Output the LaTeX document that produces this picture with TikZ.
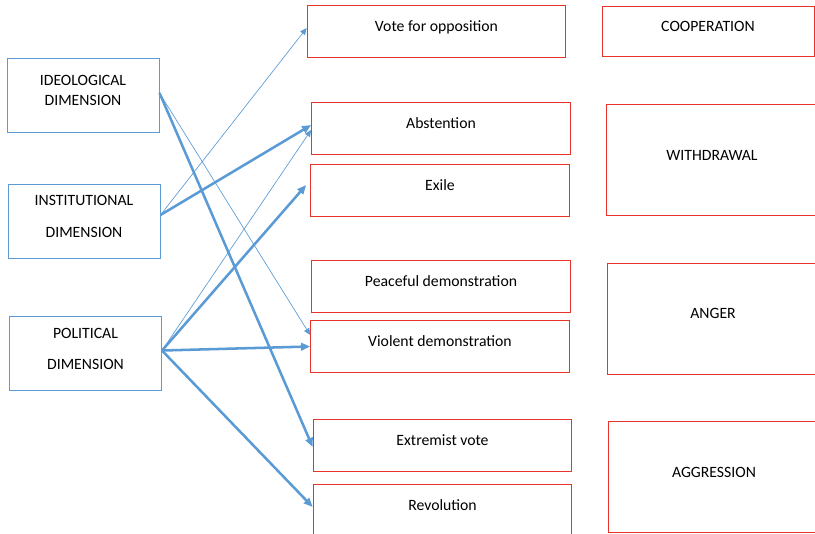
\documentclass[tikz,border=0pt]{standalone}
\usepackage{fontspec}
\setmainfont{Carlito}
\usetikzlibrary{arrows.meta}
\definecolor{dimblue}{RGB}{91,155,213}
\definecolor{actred}{RGB}{232,52,42}

\begin{document}
\begin{tikzpicture}[x=0.75pt,y=-0.75pt,
    font=\fontsize{11.8}{14.2}\selectfont,
    dimbox/.style={draw=dimblue,line width=0.75pt,rectangle,align=center,
      minimum width=114pt,minimum height=55.5pt,text depth=8pt,inner sep=0pt},
    actbox/.style={draw=actred,line width=0.75pt,rectangle,
      minimum width=194pt,minimum height=38.5pt,text depth=8pt,inner sep=0pt},
    moodbox/.style={draw=actred,line width=0.75pt,rectangle,
      minimum width=158pt,minimum height=83.25pt,text depth=8pt,inner sep=0pt},
    thinarrow/.style={draw=dimblue,line width=0.5pt,-{Triangle[length=5pt,width=4.4pt]}},
    thickarrow/.style={draw=dimblue,line width=1.9pt,-{Triangle[length=6.8pt,width=5.6pt]}}]
    \useasboundingbox (0,0) rectangle (815,534);

    \node[dimbox] (ideo) at (83,96) {IDEOLOGICAL\\[0.8pt]DIMENSION};
    \node[dimbox] (inst) at (84,221.5) {INSTITUTIONAL\\[9.4pt]DIMENSION};
    \node[dimbox] (pol) at (85.5,354) {POLITICAL\\[9.4pt]DIMENSION};

    \node[actbox] (vote) at (436.5,31.5) {Vote for opposition};
    \node[actbox] (abst) at (441,128.5) {Abstention};
    \node[actbox] (exile) at (440,190.5) {Exile};
    \node[actbox] (peace) at (441,286.5) {Peaceful demonstration};
    \node[actbox] (viol) at (440,346.5) {Violent demonstration};
    \node[actbox] (extr) at (442.5,445.5) {Extremist vote};
    \node[actbox] (revo) at (442.5,510) {Revolution};

    \node[moodbox,minimum width=159pt,minimum height=37.5pt] (coop) at (708,32) {COOPERATION};
    \node[moodbox] (withd) at (712,160.5) {WITHDRAWAL};
    \node[moodbox] (anger) at (713,319) {ANGER};
    \node[moodbox] (aggr) at (714,477.5) {AGGRESSION};

    \draw[thickarrow] ([yshift=2.25pt]ideo.east) -- ([yshift=-1.1pt]extr.west);
    \draw[thinarrow] ([yshift=2.25pt]ideo.east) -- ([yshift=8.6pt]viol.west);
    \draw[thinarrow] ([yshift=4.9pt]inst.east) -- ([yshift=2.6pt]vote.west);
    \draw[thickarrow] ([yshift=4.9pt]inst.east) -- ([yshift=2.6pt]abst.west);
    \draw[thinarrow] ([yshift=2.6pt]pol.east) -- ([yshift=-1.1pt]abst.west);
    \draw[thickarrow] ([yshift=2.6pt]pol.east) -- ([xshift=-3pt,yshift=4.1pt]exile.west);
    \draw[thickarrow] ([yshift=2.6pt]pol.east) -- (viol.west);
    \draw[thickarrow] ([yshift=2.6pt]pol.east) -- ([yshift=2.25pt]revo.west);
  \end{tikzpicture}
\end{document}
